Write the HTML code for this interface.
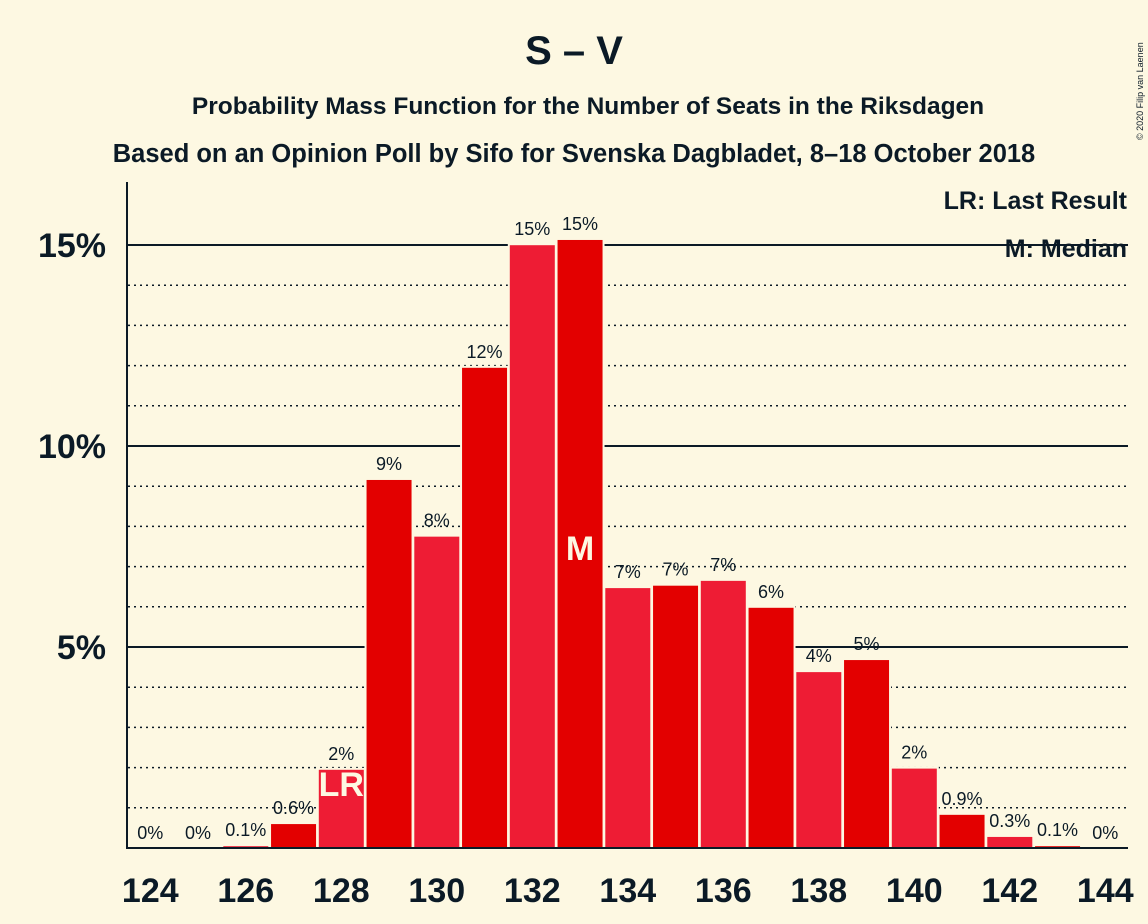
<!DOCTYPE html>
<html><head><meta charset="utf-8"><style>
body{margin:0;background:#FDF8E2;}
svg{display:block;font-family:"Liberation Sans",sans-serif;}
</style></head><body>
<svg id="chart" width="1148" height="924">
<rect width="1148" height="924" fill="#FDF8E2"/>
<text x="574" y="64" text-anchor="middle" font-size="40" font-weight="bold" fill="#0b1a26">S – V</text>
<text x="588" y="114" text-anchor="middle" font-size="24.5" font-weight="bold" fill="#0b1a26">Probability Mass Function for the Number of Seats in the Riksdagen</text>
<text x="574" y="162" text-anchor="middle" font-size="25.5" font-weight="bold" fill="#0b1a26">Based on an Opinion Poll by Sifo for Svenska Dagbladet, 8–18 October 2018</text>
<text transform="translate(1143,140) rotate(-90)" font-size="9" fill="#0b1a26">© 2020 Filip van Laenen</text>
<g id="grid"></g>
<g id="bars"></g>
<g id="labels"></g>
<line x1="127" y1="182" x2="127" y2="849" stroke="#0b1a26" stroke-width="2"/>
<line x1="126" y1="848" x2="1128" y2="848" stroke="#0b1a26" stroke-width="2"/>
<text x="1127" y="209" text-anchor="end" font-size="25" font-weight="bold" fill="#0b1a26">LR: Last Result</text>
<text x="1127" y="257" text-anchor="end" font-size="25" font-weight="bold" fill="#0b1a26">M: Median</text>
</svg>
<script>
const seats=[124,125,126,127,128,129,130,131,132,133,134,135,136,137,138,139,140,141,142,143,144];
const probs=[0,0,0.07,0.62,1.97,9.18,7.77,11.97,15.02,15.15,6.49,6.55,6.67,6.0,4.4,4.7,2.0,0.85,0.3,0.07,0];
const valueLabels=["0%","0%","0.1%","0.6%","2%","9%","8%","12%","15%","15%","7%","7%","7%","6%","4%","5%","2%","0.9%","0.3%","0.1%","0%"];
const yTicks=[5,10,15];
const xTicks=[124,126,128,130,132,134,136,138,140,142,144];
const lastResult=128, median=133;
const NS="http://www.w3.org/2000/svg";
const x=s=>150.3+(s-124)*47.75;
const y=v=>848-v*40.2;
function mk(tag,attrs,parent){const e=document.createElementNS(NS,tag);for(const k in attrs)e.setAttribute(k,attrs[k]);document.getElementById(parent).appendChild(e);return e;}
for(let p=1;p<=15;p++){
  const major=p%5===0;
  const l=mk('line',{x1:128,x2:1128,y1:y(p),y2:y(p),stroke:'#0b1a26','stroke-width':major?2:1.5,'stroke-dasharray':major?'':'2,4'},'grid');
  
  
}
yTicks.forEach(t=>{
  const e=mk('text',{x:106,y:y(t)+12,'text-anchor':'end','font-size':34,'font-weight':'bold',fill:'#0b1a26'},'labels');
  e.textContent=t+'%';
  
  
});
xTicks.forEach(t=>{
  const e=mk('text',{x:x(t),y:902,'text-anchor':'middle','font-size':34,'font-weight':'bold',fill:'#0b1a26'},'labels');
  e.textContent=t;
  
  
});
seats.forEach((s,i)=>{
  const v=probs[i];
  if(v>0){
    const r=mk('rect',{x:x(s)-23.5,y:y(v),width:47,height:848-y(v),fill:s%2===0?'#EE1C34':'#E30000',stroke:'#FDF8E2','stroke-width':2},'bars');
    
    
  }
  const t=mk('text',{x:x(s),y:y(v)-9,'text-anchor':'middle','font-size':18,fill:'#0b1a26'},'labels');
  t.textContent=valueLabels[i];
  
  
  if(s===lastResult||s===median){
    const m=mk('text',{x:x(s),y:0,'text-anchor':'middle','font-size':34,'font-weight':'bold',fill:'#FDF8E2'},'labels');
    if(s===median)m.setAttribute('y',560);
    if(s===lastResult)m.setAttribute('y',796);
    m.textContent=s===median?'M':'LR';
    
    
  }
});
</script>
</body></html>
